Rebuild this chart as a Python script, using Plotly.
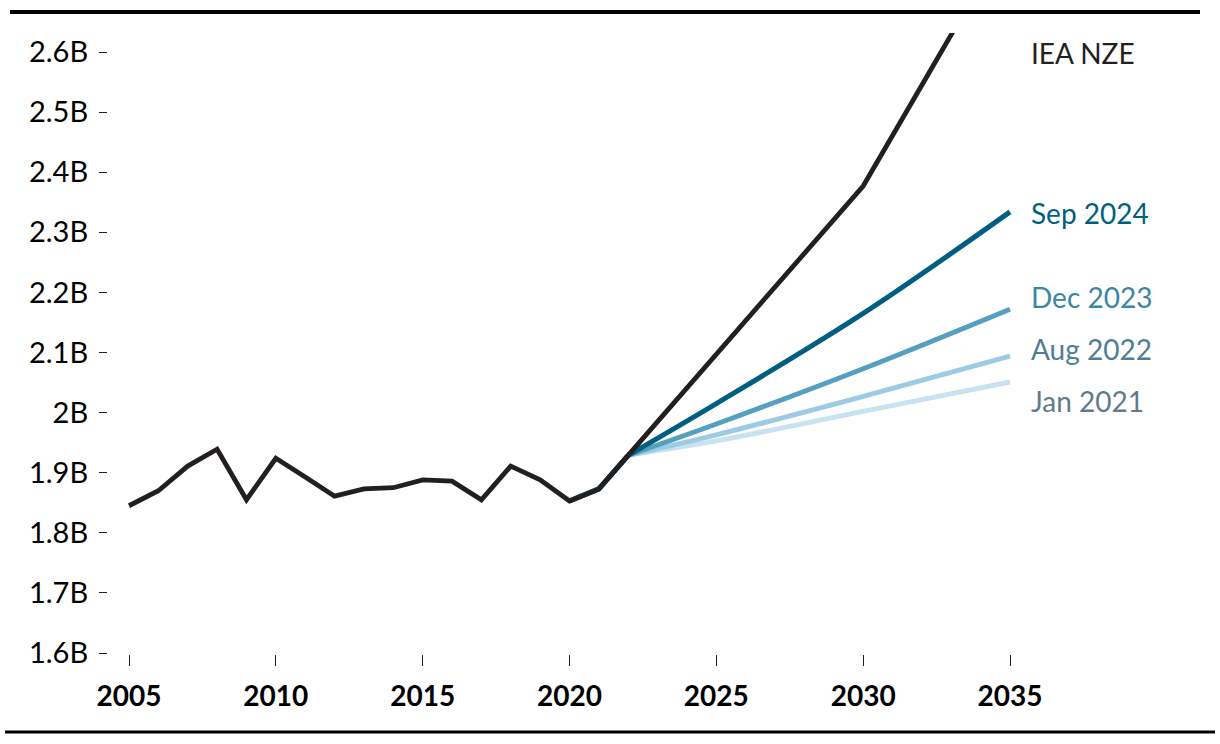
import plotly.graph_objects as go

hist_years = list(range(2005, 2023))
hist_vals = [1.845, 1.870, 1.911, 1.939, 1.855, 1.924, 1.893, 1.861, 1.873, 1.875,
             1.888, 1.886, 1.855, 1.911, 1.888, 1.853, 1.873, 1.929]

nze_years = [2022, 2030, 2035]
nze_vals = [1.929, 2.377, 2.797]

fc_years = [2022, 2025, 2030, 2035]
sep2024 = [1.929, 2.015, 2.165, 2.334]
dec2023 = [1.929, 1.981, 2.073, 2.172]
aug2022 = [1.929, 1.963, 2.027, 2.094]
jan2021 = [1.929, 1.953, 2.002, 2.051]

series = [
    ("Jan 2021", jan2021, "#c7e2f0", "#5f7b8a", 2.019),
    ("Aug 2022", aug2022, "#9dcbe3", "#4e7d96", 2.106),
    ("Dec 2023", dec2023, "#559fbf", "#3b86a5", 2.192),
    ("Sep 2024", sep2024, "#005e80", "#005f80", 2.332),
]

y_ticks = [1.6, 1.7, 1.8, 1.9, 2.0, 2.1, 2.2, 2.3, 2.4, 2.5, 2.6]
y_labels = ["1.6B", "1.7B", "1.8B", "1.9B", "2B", "2.1B", "2.2B", "2.3B", "2.4B", "2.5B", "2.6B"]
x_ticks = [2005, 2010, 2015, 2020, 2025, 2030, 2035]

FONT = "Lato, 'Noto Sans', sans-serif"
BLACK = "#231f20"

fig = go.Figure()

# faint colored fringe under the historical line
for name, vals, col, _, _ in series:
    fig.add_trace(go.Scatter(x=hist_years[-3:], y=hist_vals[-3:],
                             mode="lines", line=dict(color=col, width=5),
                             hoverinfo="skip", showlegend=False))
    fig.add_trace(go.Scatter(x=fc_years, y=vals,
                             mode="lines", line=dict(color=col, width=5, shape="spline", smoothing=1.0),
                             hoverinfo="skip", showlegend=False))

fig.add_trace(go.Scatter(x=hist_years + nze_years[1:], y=hist_vals + nze_vals[1:],
                         mode="lines", line=dict(color=BLACK, width=4.8),
                         hoverinfo="skip", showlegend=False))

annotations = []
for name, vals, col, lcol, ly in series:
    annotations.append(dict(x=2035.65, y=ly, xref="x", yref="y", text=name, showarrow=False,
                            xanchor="left", yanchor="middle",
                            font=dict(family=FONT, size=28, color=lcol)))
annotations.append(dict(x=2035.65, y=2.598, xref="x", yref="y", text="IEA NZE", showarrow=False,
                        xanchor="left", yanchor="middle",
                        font=dict(family=FONT, size=28, color=BLACK)))

L, R, T, B = 108, 20, 33, 744 - 654
W, H = 1220, 744
pw, ph = W - L - R, H - T - B

def px(x):
    return (x - L) / pw

def py(y):
    return (H - B - y) / ph

shapes = [
    dict(type="line", xref="paper", yref="paper", x0=px(10), x1=px(1200), y0=py(12), y1=py(12),
         line=dict(color="#000000", width=4)),
    dict(type="line", xref="paper", yref="paper", x0=px(5), x1=px(1215), y0=py(732), y1=py(732),
         line=dict(color="#000000", width=3)),
]

fig.update_layout(
    width=W, height=H,
    margin=dict(l=L, r=R, t=T, b=B, pad=0),
    paper_bgcolor="white", plot_bgcolor="white",
    showlegend=False,
    annotations=annotations,
    shapes=shapes,
    font=dict(family=FONT, color=BLACK),
)

x_per = (1010 - 129) / 30.0
fig.update_xaxes(range=[2005 - (129 - L) / x_per, 2035 + (L + pw - 1010) / x_per],
                 tickvals=x_ticks, ticktext=[str(v) for v in x_ticks],
                 ticks="outside", ticklen=11, tickwidth=1, tickcolor=BLACK,
                 showgrid=False, zeroline=False, showline=False,
                 tickfont=dict(family=FONT, size=28, color="#000000", weight="bold"),
                 ticklabelstandoff=6)

y_per = (653 - 52) / 1.0
fig.update_yaxes(range=[1.6 - 1 / y_per, 2.6 + (52 - T) / y_per],
                 tickvals=y_ticks, ticktext=y_labels,
                 ticks="outside", ticklen=8, tickwidth=1, tickcolor=BLACK,
                 showgrid=False, zeroline=False, showline=False,
                 tickfont=dict(family=FONT, size=29, color="#000000"),
                 ticklabelstandoff=5)

fig.write_html("out.html")
